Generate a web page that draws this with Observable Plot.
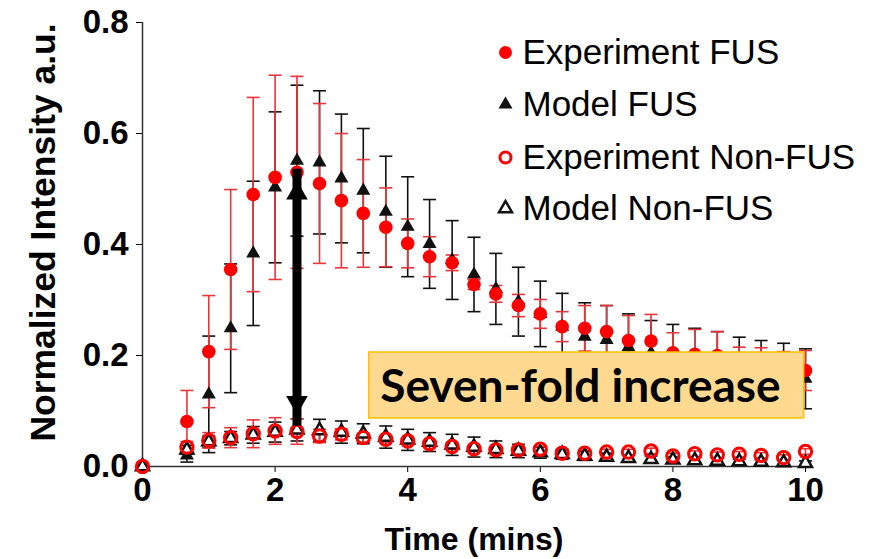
<!DOCTYPE html>
<html><head><meta charset="utf-8">
<script src="https://cdn.jsdelivr.net/npm/d3@7"></script>
<script src="https://cdn.jsdelivr.net/npm/@observablehq/plot@0.6"></script>
<style>
body{margin:0;background:#fff;}
#chart{width:877px;height:559px;}
</style>
</head><body><div id="chart"></div>
<script>
// ---- data ----
const time = [0, 0.67, 1, 1.33, 1.67, 2, 2.33, 2.67, 3, 3.33, 3.67, 4, 4.33, 4.67, 5, 5.33, 5.67, 6, 6.33, 6.67, 7, 7.33, 7.67, 8, 8.33, 8.67, 9, 9.33, 9.67, 10];
const expFUS = [0, 0.081, 0.207, 0.355, 0.490, 0.521, 0.530, 0.510, 0.479, 0.456, 0.431, 0.402, 0.378, 0.367, 0.328, 0.311, 0.290, 0.275, 0.252, 0.249, 0.243, 0.227, 0.226, 0.205, 0.202, 0.200, 0.195, 0.190, 0.183, 0.173];
const expFUSErr = [0, 0.056, 0.101, 0.144, 0.175, 0.184, 0.173, 0.144, 0.121, 0.097, 0.071, 0.044, 0.036, 0.014, 0.009, 0.015, 0.020, 0.026, 0.027, 0.041, 0.047, 0.045, 0.048, 0.036, 0.045, 0.043, 0.020, 0.024, 0.024, 0.036];
const modelFUS = [0, 0.020, 0.130, 0.249, 0.384, 0.503, 0.551, 0.548, 0.519, 0.497, 0.459, 0.432, 0.401, 0.372, 0.346, 0.320, 0.297, 0.275, 0.252, 0.234, 0.228, 0.215, 0.205, 0.195, 0.190, 0.185, 0.178, 0.172, 0.165, 0.158];
const modelFUSErr = [0, 0.012, 0.105, 0.116, 0.130, 0.136, 0.136, 0.129, 0.116, 0.112, 0.100, 0.090, 0.080, 0.071, 0.067, 0.064, 0.062, 0.059, 0.060, 0.061, 0.062, 0.060, 0.058, 0.061, 0.059, 0.058, 0.055, 0.055, 0.057, 0.054];
const expNonFUS = [0, 0.035, 0.047, 0.052, 0.059, 0.064, 0.063, 0.055, 0.058, 0.052, 0.049, 0.046, 0.041, 0.036, 0.032, 0.030, 0.030, 0.031, 0.024, 0.024, 0.026, 0.026, 0.028, 0.019, 0.023, 0.021, 0.022, 0.020, 0.016, 0.027];
const expNonFUSErr = [0, 0.010, 0.014, 0.018, 0.025, 0.024, 0.023, 0.012, 0.010, 0.008, 0.006, 0.005, 0.005, 0.005, 0.005, 0.005, 0.005, 0.005, 0.005, 0.005, 0.005, 0.005, 0.005, 0.005, 0.005, 0.005, 0.005, 0.005, 0.005, 0.005];
const modelNonFUS = [0, 0.030, 0.045, 0.051, 0.057, 0.062, 0.066, 0.065, 0.062, 0.059, 0.053, 0.048, 0.044, 0.039, 0.035, 0.031, 0.028, 0.025, 0.022, 0.019, 0.017, 0.015, 0.013, 0.012, 0.011, 0.010, 0.009, 0.008, 0.007, 0.006];
const modelNonFUSErr = [0, 0.008, 0.010, 0.012, 0.015, 0.018, 0.020, 0.020, 0.020, 0.018, 0.020, 0.019, 0.017, 0.019, 0.018, 0.015, 0.012, 0.010, 0.009, 0.008, 0.007, 0.006, 0.006, 0.005, 0.005, 0.005, 0.004, 0.004, 0.004, 0.004];

const xTicks = [0, 2, 4, 6, 8, 10];
const yTicks = [0, 0.2, 0.4, 0.6, 0.8];
const xTitle = "Time (mins)";
const yTitle = "Normalized Intensity a.u.";
const legendLabels = ["Experiment FUS", "Model FUS", "Experiment Non-FUS", "Model Non-FUS"];
const annotationText = ["Seven-fold increase"];
const annotationBox = [{x1: 3.42, x2: 9.98, y1: 0.0865, y2: 0.2054}];
const arrowSpan = [{x: 2.33, from: 0.094, to: 0.514}];

// ---- build rows ----
const rows = time.map((t, i) => ({
  t,
  ef: expFUS[i], efe: expFUSErr[i],
  mf: modelFUS[i], mfe: modelFUSErr[i],
  en: expNonFUS[i], ene: expNonFUSErr[i],
  mn: modelNonFUS[i], mne: modelNonFUSErr[i]
}));

const RED = "#ff0000";
const RED_ERR = "#e8363c";
const BLACK = "#111";

const cap = {draw(context, size) {
  const r = Math.sqrt(size / Math.PI);
  context.moveTo(-r, 0); context.lineTo(r, 0);
}};

function errMarks(key, errKey, color, w) {
  const d = rows.filter(r => r[errKey] > 0);
  return [
    Plot.ruleX(d, {x: "t", y1: r => r[key] - r[errKey], y2: r => r[key] + r[errKey], stroke: color, strokeWidth: w}),
    Plot.dot(d, {x: "t", y: r => r[key] + r[errKey], symbol: cap, r: 6.5, stroke: color, strokeWidth: w, fill: "none"}),
    Plot.dot(d, {x: "t", y: r => r[key] - r[errKey], symbol: cap, r: 6.5, stroke: color, strokeWidth: w, fill: "none"})
  ];
}

const legendStyles = [
  {symbol: "circle", r: 6.5, fill: RED, stroke: "none", strokeWidth: 0},
  {symbol: "triangle", r: 5.2, fill: BLACK, stroke: "none", strokeWidth: 0},
  {symbol: "circle", r: 5.5, fill: "none", stroke: RED, strokeWidth: 3},
  {symbol: "triangle", r: 4.8, fill: "white", stroke: BLACK, strokeWidth: 2.5}
];
const legendDy = [30, 82, 135, 186];
const legendMarks = legendLabels.flatMap((lab, i) => [
  Plot.dot([lab], {frameAnchor: "top-left", dx: 363, dy: legendDy[i], ...legendStyles[i]}),
  Plot.text([lab], {frameAnchor: "top-left", dx: 380, dy: legendDy[i], text: d => d, textAnchor: "start", lineAnchor: "middle",
    fontSize: 35, fontFamily: "'Liberation Sans', Arial, sans-serif", fill: "#000"})
]);

const plot = Plot.plot({
  width: 877, height: 559,
  marginLeft: 142, marginRight: 72, marginTop: 22, marginBottom: 93,
  style: {fontFamily: "'Liberation Sans', Arial, sans-serif", background: "#fff"},
  x: {domain: [0, 10]},
  y: {domain: [0, 0.8]},
  marks: [
    Plot.axisX({ticks: xTicks, tickSize: 6, tickPadding: 5, fontSize: 33, fontWeight: "bold", color: "#000", label: null}),
    Plot.axisY({ticks: yTicks, tickFormat: d3.format(".1f"), tickSize: 6, tickPadding: 8, fontSize: 33, fontWeight: "bold", color: "#000", label: null}),
    Plot.ruleY([0], {stroke: "#333", strokeWidth: 1.5}),
    Plot.ruleX([0], {stroke: "#333", strokeWidth: 1.5}),
    Plot.text([xTitle], {frameAnchor: "bottom", dy: 73, text: d => d, textAnchor: "middle", lineAnchor: "middle", fontSize: 32, fontWeight: "bold", fill: "#000"}),
    Plot.text([yTitle], {frameAnchor: "left", dx: -99, dy: -12, rotate: -90, text: d => d, textAnchor: "middle", lineAnchor: "middle", fontSize: 35.5, fontWeight: "bold", fill: "#000"}),

    ...errMarks("mf", "mfe", BLACK, 1.6),
    ...errMarks("ef", "efe", RED_ERR, 1.6),
    ...errMarks("mn", "mne", BLACK, 1.6),
    ...errMarks("en", "ene", RED_ERR, 1.6),

    Plot.dot(rows, {x: "t", y: "mf", symbol: "triangle", r: 5.2, fill: BLACK}),
    Plot.dot(rows, {x: "t", y: "ef", symbol: "circle", r: 6.8, fill: RED}),
    Plot.dot(rows, {x: "t", y: "mn", symbol: "triangle", r: 4.8, fill: "white", stroke: BLACK, strokeWidth: 2.5}),
    Plot.dot(rows, {x: "t", y: "en", symbol: "circle", r: 6.2, fill: "none", stroke: RED, strokeWidth: 3}),

    // double-headed arrow
    Plot.ruleX(arrowSpan, {x: "x", y1: "from", y2: "to", stroke: "#000", strokeWidth: 9, insetTop: 12, insetBottom: 12}),
    Plot.dot(arrowSpan, {x: "x", y: "to", symbol: "triangle", r: 8, fill: "#000", dy: 12}),
    Plot.dot(arrowSpan, {x: "x", y: "from", symbol: "triangle", r: 8, fill: "#000", dy: -12, rotate: 180}),

    // annotation box
    Plot.rect(annotationBox, {x1: "x1", x2: "x2", y1: "y1", y2: "y2", fill: "#ffd990", stroke: "#ffc000", strokeWidth: 1.5}),
    Plot.text(annotationText, {x: () => annotationBox[0].x1, y: () => (annotationBox[0].y1 + annotationBox[0].y2) / 2,
      text: d => d, textAnchor: "start", lineAnchor: "middle", dx: 11, dy: 2, fontSize: 46, fontWeight: "bold", fontFamily: "Lato, 'Open Sans', sans-serif", fill: "#000"}),

    ...legendMarks
  ]
});
document.getElementById("chart").appendChild(plot);
</script>
</body></html>
